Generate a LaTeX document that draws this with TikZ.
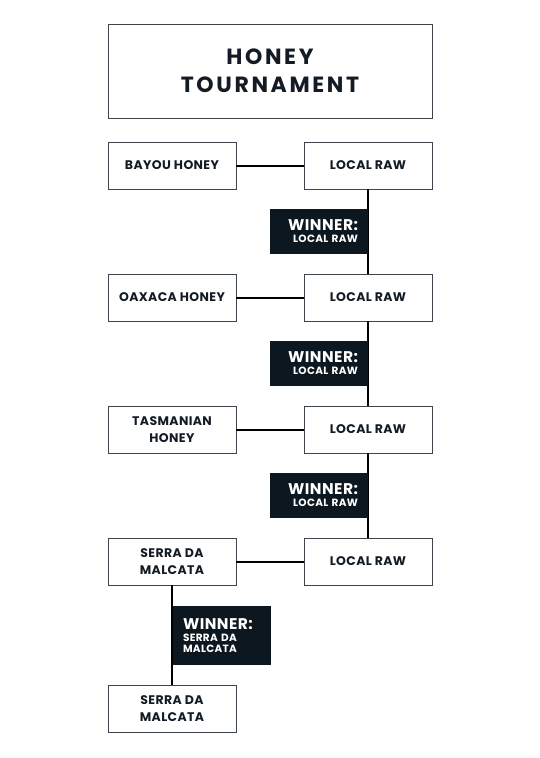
\documentclass[tikz,border=0pt]{standalone}
\usepackage{fontspec}
\setmainfont{Poppins}
\newfontfamily\titlefont[LetterSpace=12]{Poppins}
\newfontfamily\labelfont[LetterSpace=3]{Poppins}
\definecolor{ink}{HTML}{131C25}
\definecolor{edge}{HTML}{3D444B}
\definecolor{navy}{HTML}{0C1720}
\tikzset{
  box/.style={draw=edge, line width=0.9pt, fill=white, minimum width=128pt, minimum height=47pt,
    inner sep=0pt, align=center, text=ink, font=\labelfont\bfseries\fontsize{12.5}{17}\selectfont},
  winbox/.style={fill=navy, text=white, minimum height=45pt, text width=78pt, inner xsep=10pt, inner ysep=0pt},
  link/.style={draw=black, line width=2pt},
}
\newcommand{\wbig}[1]{{\labelfont\bfseries\fontsize{15.5}{16}\selectfont #1}}
\newcommand{\wsmall}[1]{{\labelfont\bfseries\fontsize{10.5}{11}\selectfont #1}}
\begin{document}
\begin{tikzpicture}[x=1pt,y=-1pt]
\useasboundingbox[fill=white] (0,0) rectangle (540,758);
\node[draw=edge, line width=0.9pt, minimum width=324pt, minimum height=94pt, align=center, text=ink,
  font=\titlefont\bfseries\fontsize{22}{28}\selectfont] (title) at (270,71) {HONEY\\TOURNAMENT};

\node[box] (l1) at (172,165.5) {BAYOU HONEY};
\node[box] (r1) at (368,165.5) {LOCAL RAW};
\node[box] (l2) at (172,297.5) {OAXACA HONEY};
\node[box] (r2) at (368,297.5) {LOCAL RAW};
\node[box] (l3) at (172,429.5) {TASMANIAN\\HONEY};
\node[box] (r3) at (368,429.5) {LOCAL RAW};
\node[box] (l4) at (172,561.5) {SERRA DA\\MALCATA};
\node[box] (r4) at (368,561.5) {LOCAL RAW};
\node[box] (f) at (172,709) {SERRA DA\\MALCATA};

\draw[link] (l1) -- (r1);
\draw[link] (l2) -- (r2);
\draw[link] (l3) -- (r3);
\draw[link] (l4) -- (r4);
\draw[link] (r1) -- (r2);
\draw[link] (r2) -- (r3);
\draw[link] (r3) -- (r4);
\draw[link] (l4) -- (f);

\node[winbox, align=right] (w1) at (319,231.5) {\wbig{WINNER:}\\[0pt]\wsmall{LOCAL RAW}};
\node[winbox, align=right] (w2) at (319,363.5) {\wbig{WINNER:}\\[0pt]\wsmall{LOCAL RAW}};
\node[winbox, align=right] (w3) at (319,495.5) {\wbig{WINNER:}\\[0pt]\wsmall{LOCAL RAW}};
\node[winbox, align=left, minimum height=59pt] (w4) at (222,635.5) {\wbig{WINNER:}\\[0pt]\wsmall{SERRA DA}\\[-1pt]\wsmall{MALCATA}};
\end{tikzpicture}
\end{document}
